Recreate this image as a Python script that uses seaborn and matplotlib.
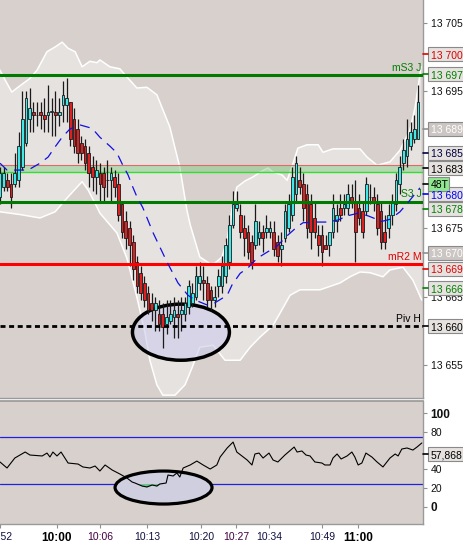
import numpy as np
import seaborn as sns
import matplotlib.pyplot as plt
from matplotlib.patches import Ellipse, Rectangle
from matplotlib.lines import Line2D

# 48 tick candles
bar_open = [13679.5, 13681, 13682, 13681.5, 13681.5, 13682, 13684, 13687.5, 13691, 13692,
            13691.5, 13692, 13691.5, 13691.5, 13692, 13692, 13691.5, 13693, 13693, 13693.5,
            13691, 13689.5, 13687.5, 13687, 13686, 13684, 13682.5, 13683, 13683, 13682,
            13682, 13682.5, 13681.5, 13678.5, 13676, 13675, 13673, 13670, 13668.5, 13667,
            13665.5, 13664, 13663, 13662.5, 13662.5, 13661, 13661.5, 13662, 13662.5, 13662.5,
            13662.5, 13663.5, 13664, 13665, 13667, 13667.5, 13667, 13666, 13664.5, 13666.5,
            13666.5, 13668, 13670, 13675.5, 13678, 13677, 13675, 13674.5, 13673, 13672.5,
            13673.5, 13674.5, 13674.5, 13674.5, 13674.5, 13673, 13672, 13673.5, 13675, 13677,
            13680, 13682, 13681.5, 13680, 13678.5, 13676.5, 13674, 13674, 13672.5, 13672.5,
            13674.5, 13676, 13678, 13678, 13678, 13679.5, 13679, 13678, 13677.5, 13677.5,
            13679.5, 13679.5, 13678.5, 13677.5, 13674.5, 13675, 13677, 13678.5, 13681.5, 13684.5,
            13685.5, 13687, 13688, 13688]
bar_close = [13683, 13683, 13681, 13679.5, 13683, 13687, 13691, 13694, 13692.5, 13691.5,
             13691.5, 13691.5, 13691, 13692, 13692, 13691.5, 13692, 13694.5, 13694, 13688,
             13687, 13686, 13686, 13684.5, 13683, 13682.5, 13683.5, 13681.5, 13681, 13682,
             13683, 13681, 13677, 13674.5, 13673.5, 13672.5, 13669, 13666.5, 13665.5, 13664.5,
             13663, 13663, 13664, 13661, 13660.5, 13662, 13662.5, 13663, 13662, 13663,
             13664, 13666.5, 13665.5, 13668, 13668, 13667, 13664.5, 13664.5, 13665, 13668,
             13669.5, 13672.5, 13675.5, 13678.5, 13678.5, 13674.5, 13673.5, 13671.5, 13670, 13676,
             13674.5, 13673.5, 13675, 13675, 13672, 13671, 13672.5, 13677.5, 13678.5, 13682.5,
             13684.5, 13681, 13678, 13675, 13674.5, 13674.5, 13672.5, 13671.5, 13672, 13674.5,
             13678, 13677, 13677, 13678.5, 13680, 13679, 13674.5, 13676.5, 13674.5, 13681.5,
             13679.5, 13679, 13675, 13673, 13673, 13677, 13679, 13682, 13684, 13686.5,
             13688, 13689, 13689.5, 13693.5]
bar_high = [13684, 13684, 13683, 13683, 13686, 13689, 13695, 13695, 13695.5, 13693.5,
            13693.5, 13693.5, 13694, 13696, 13694, 13695, 13694, 13696.5, 13697, 13693.5,
            13692.5, 13691, 13688.5, 13688, 13687, 13685.5, 13685, 13684.5, 13684, 13685,
            13684, 13683.5, 13683, 13679, 13677.5, 13676, 13674, 13671, 13669.5, 13668,
            13666.5, 13665.5, 13665, 13664.5, 13664, 13664.5, 13664.5, 13665, 13664.5, 13665,
            13665, 13667.5, 13667, 13669.5, 13670, 13669.5, 13668, 13666.5, 13666.5, 13669,
            13671, 13673.5, 13677, 13680.5, 13680.5, 13678.5, 13677, 13675.5, 13674, 13678.5,
            13676, 13675.5, 13677, 13676, 13676, 13674, 13674.5, 13678.5, 13680, 13684,
            13685.5, 13684, 13683, 13681.5, 13680, 13679, 13675.5, 13675.5, 13674, 13674.5,
            13680, 13678.5, 13680, 13680, 13681.5, 13681.5, 13682, 13680, 13679, 13682.5,
            13681.5, 13681, 13680, 13679, 13677, 13678.5, 13680, 13683, 13685.5, 13688,
            13691, 13690.5, 13691.5, 13696]
bar_low = [13678.5, 13680.5, 13680.5, 13678, 13681, 13681, 13683.5, 13687, 13689, 13689,
           13690, 13689.5, 13689, 13689, 13688.5, 13688.5, 13690, 13690.5, 13690.5, 13687,
           13686, 13684.5, 13685, 13683.5, 13681, 13680.5, 13680, 13679, 13679, 13679.5,
           13679, 13679.5, 13676, 13673.5, 13672, 13669.5, 13667.5, 13665.5, 13664.5, 13663.5,
           13662.5, 13661.5, 13660, 13660, 13657.5, 13659.5, 13661, 13659, 13659, 13660,
           13661.5, 13662.5, 13663.5, 13664.5, 13666, 13664.5, 13663.5, 13663, 13663.5, 13665,
           13665.5, 13667, 13669, 13675, 13677.5, 13673.5, 13671, 13670.5, 13669, 13672,
           13672.5, 13671.5, 13673.5, 13673.5, 13671, 13670, 13669.5, 13673, 13674.5, 13676,
           13679, 13680, 13676, 13673.5, 13672, 13673.5, 13671, 13669.5, 13672, 13671,
           13673.5, 13674.5, 13676, 13677, 13677, 13678, 13670, 13675.5, 13673.5, 13677,
           13678.5, 13677.5, 13674, 13672, 13672, 13673.5, 13675.5, 13677.5, 13680, 13683.5,
           13684, 13686.5, 13687.5, 13688]

# Bollinger bands and moving average (bar position, price)
bb_up_x = [0, 1.35, 3.2, 4.6, 8.1, 10, 12.7, 14.9, 16.8, 18.4, 20.3, 22.2, 24.3, 26.2, 27, 29.7,
           32.4, 34.3, 37, 39.7, 42.4, 45.9, 48.6, 50.5, 51.4, 54, 56.8, 58.1, 60, 61.4, 62.7,
           64, 66.2, 68.4, 70.3, 72.4, 73.8, 76.2, 77.6, 79.2, 80.5, 83, 86, 87.3, 90, 94, 97.3,
           99.2, 101.9, 105.4, 108.1, 110.8, 112.2, 113.8]
bb_up = [13698.1, 13696.7, 13694.9, 13695.5, 13696.9, 13698.1, 13700.8, 13701.5, 13702.2, 13701.3,
         13700.8, 13698.6, 13699.4, 13699.2, 13699.6, 13698.6, 13698.3, 13697.1, 13695.5, 13695.6,
         13694.5, 13689.8, 13683.9, 13677.7, 13675.5, 13670.8, 13669.8, 13669.9, 13670.8, 13673.3,
         13677.7, 13681.0, 13681.9, 13682.5, 13683.2, 13683.8, 13683.2, 13682.8, 13682.0, 13684.5,
         13686.7, 13687.2, 13687.2, 13686.1, 13686.6, 13686.6, 13686.6, 13685.4, 13684.2, 13684.7,
         13686.4, 13689.4, 13692.7, 13698.6]
bb_low_x = [0, 5.4, 10.8, 14.9, 17.6, 20.8, 22.2, 23.8, 26.2, 27, 31.6, 34.3, 37, 39.2, 40.5,
            42.4, 44, 47.3, 50, 51.9, 54, 57.6, 60.8, 64.9, 67.6, 70.3, 73.8, 75.7, 78.4, 81.1,
            86.5, 91.9, 94.6, 97.3, 100, 103.5, 105.4, 108.9, 111.6, 114]
bb_low = [13677.4, 13677.0, 13676.5, 13677.4, 13679.1, 13681.0, 13681.8, 13680.6, 13678.1, 13677.2,
          13674.3, 13670.6, 13664.9, 13659.7, 13655.7, 13652.1, 13650.6, 13650.6, 13652.1, 13654.6,
          13657.6, 13657.9, 13655.7, 13655.7, 13657.6, 13659.1, 13660.8, 13662.6, 13665.2, 13666.0,
          13666.0, 13667.0, 13667.9, 13668.6, 13668.5, 13667.9, 13668.9, 13669.3, 13667.4, 13664.5]
ma_x = [0, 1.9, 4.6, 7.6, 10.8, 13, 14.9, 16.8, 18.9, 21.6, 24.9, 27, 29.7, 31.6, 33.2, 34.6,
        35.9, 37, 38.6, 41.4, 45.1, 48.1, 50.8, 52.7, 55.9, 58.1, 61.4, 62.7, 64.9, 67, 69.5,
        72.2, 74.9, 77.6, 80.3, 81.9, 85.7, 88.4, 91.4, 93.8, 96.8, 99.5, 103.2, 105.4, 108.1,
        110.8, 113.5]
ma = [13684.5, 13683.5, 13683.5, 13683.5, 13684.5, 13685.4, 13686.9, 13688.3, 13689.5, 13690.1,
      13689.6, 13688.3, 13687.0, 13686.0, 13684.2, 13682.8, 13681.0, 13679.6, 13678.0, 13674.3,
      13670.1, 13667.0, 13665.2, 13664.5, 13663.8, 13664.1, 13665.2, 13666.7, 13668.4, 13669.2,
      13670.6, 13671.5, 13672.4, 13673.9, 13675.2, 13675.8, 13675.9, 13675.9, 13676.2, 13676.8,
      13677.2, 13676.8, 13676.0, 13676.3, 13677.4, 13679.1, 13680.9]

# RSI panel
rsi_x = [0, 1.9, 4, 6.8, 8.1, 11.4, 12.7, 13.5, 14.3, 15.4, 16.5, 18.4, 21.1, 22.4, 24.3, 25.7,
         27, 28.4, 30.3, 32.4, 34.3, 35.7, 36.5, 38.4, 39.7, 41.1, 42.4, 43.2, 44.9, 45.4, 46.8,
         47.8, 48.6, 49.5, 51.4, 53.2, 54.9, 56.8, 58.6, 59.5, 61.4, 63, 64, 66.8, 68.1, 68.9,
         70, 71.1, 72.7, 73.8, 75.1, 77, 79.5, 80.3, 81.6, 82.7, 83.8, 85.1, 87, 87.8, 89.2, 90,
         91.1, 92.2, 93.8, 95.1, 95.9, 96.8, 97.8, 98.9, 100.5, 101.9, 103.5, 105.4, 106.8,
         107.6, 108.6, 110, 111.6, 112.7, 114]
rsi_vals = [47.9, 41.5, 52.1, 58.5, 55.3, 54.3, 57.4, 53.2, 58.5, 54.3, 58.5, 46.8, 45.7, 42.6,
            41.5, 43.6, 38.3, 44.7, 39.4, 35.1, 30.9, 26.6, 25.5, 22.3, 21.3, 23.4, 22.3, 24.5,
            25.5, 34.0, 33.0, 36.2, 31.9, 41.5, 44.7, 48.9, 44.7, 40.4, 44.7, 53.2, 62.8, 69.1,
            58.5, 50.0, 44.7, 56.4, 57.4, 52.1, 57.4, 50.0, 47.9, 55.3, 63.8, 58.5, 59.6, 55.3,
            54.3, 47.9, 46.8, 44.7, 44.7, 52.1, 56.4, 51.1, 54.3, 58.5, 53.2, 44.7, 46.8, 57.4,
            53.2, 47.9, 42.6, 52.1, 56.4, 54.3, 61.7, 62.8, 60.6, 63.8, 68.1]

# pivot levels
ms3_j = 13697.4
s3_j = 13678.9
mr2_m = 13669.7
piv_h = 13660.7
zone_top, zone_bottom = 13684.2, 13683.2

time_ticks = [0, 15.4, 27, 39.7, 54.3, 63.8, 72.7, 87, 96.8]
time_labels = ["09:52", "10:00", "10:06", "10:13", "10:20", "10:27", "10:34", "10:49", "11:00"]

# price scale labels left visible (the others sit under the level boxes)
price_ticks = [13655, 13665, 13675, 13695, 13705]

# right side price boxes: (y pixel, text, text colour, box colour)
price_boxes = [
    (54, "13 700,", "#E00000", "#E6E2E0"),
    (74, "13 697,", "#008000", "#E6E2E0"),
    (129, "13 689,", "white", "#CBC5C3"),
    (153, "13 685,", "#000040", "#E6E2E0"),
    (168, "13 683,", "black", "#E6E2E0"),
    (194, "13 680,", "#0000FF", "#E6E2E0"),
    (209, "13 678,", "#008000", "#E6E2E0"),
    (253, "13 670,", "white", "#CBC5C3"),
    (269, "13 669,", "#E00000", "#E6E2E0"),
    (288, "13 666,", "#008000", "#E6E2E0"),
    (326, "13 660,", "black", "#E6E2E0"),
]

sns.set_theme(style="white")
plt.rcParams["font.family"] = ["Liberation Sans", "DejaVu Sans"]

W, H = 464, 545
BAR_PX = 3.7


def fx(px):
    return px / W


def fy(py):
    return 1 - py / H


fig = plt.figure(figsize=(W / 100, H / 100), dpi=100)
fig.patch.set_facecolor("white")

ax = fig.add_axes([0, fy(398), fx(423), 398 / H])
ax_rsi = fig.add_axes([0, fy(524), fx(423), (524 - 401) / H], sharex=ax)

bg = "#D8D0CD"
for a in (ax, ax_rsi):
    a.set_facecolor(bg)
    for side in ["left", "top"]:
        a.spines[side].set_visible(False)
    for side in ["right", "bottom"]:
        a.spines[side].set_color("#9A9A9A")
        a.spines[side].set_linewidth(1.0)
ax_rsi.spines["top"].set_visible(True)
ax_rsi.spines["top"].set_color("#9A9A9A")

# Bollinger band
ax.fill(np.r_[bb_up_x, bb_low_x[::-1]], np.r_[bb_up, bb_low[::-1]], color="#E6E2E0", lw=0, zorder=1)
ax.plot(bb_up_x, bb_up, color="white", lw=1.1, zorder=1.5)
ax.plot(bb_low_x, bb_low, color="white", lw=1.1, zorder=1.5)

# zone
ax.axhspan(zone_bottom, zone_top, color="#7CCD7C", alpha=0.45, lw=0, zorder=1.6)
ax.axhline(zone_top, color="#E06A6A", lw=0.8, zorder=1.7)
ax.axhline(zone_bottom, color="#33DD33", lw=1.0, zorder=1.7)

# highlight ellipse
ax.add_patch(Ellipse((48.9, 13659.8), 26.2, 8.2, facecolor=(0.80, 0.80, 0.92, 0.6),
                     edgecolor="black", lw=2.5, zorder=2))

# candles
x = np.arange(len(bar_open))
o = np.array(bar_open)
c = np.array(bar_close)
up = c >= o
ax.vlines(x, bar_low, bar_high, color="#1A1A1A", lw=0.9, zorder=3)
body_h = np.maximum(np.abs(c - o), 0.12)
ax.bar(x, body_h, bottom=np.minimum(o, c), width=0.72,
       color=np.where(up, "#40E8E8", "#E02020"), edgecolor="#1A1A1A", linewidth=0.6, zorder=3.2)

# moving average
ax.plot(ma_x, ma, color="#1010E0", lw=0.9, linestyle=(0, (8, 5.5)), zorder=5)

# levels
ax.axhline(ms3_j, color="#007A00", lw=2.2, zorder=4)
ax.axhline(s3_j, color="#007A00", lw=2.2, zorder=4)
ax.axhline(mr2_m, color="#FF0000", lw=2.2, zorder=4)
ax.axhline(piv_h, color="black", lw=2.0, linestyle=(0, (1.8, 1.3)), zorder=4)
for level, name, col, z in [(ms3_j, "mS3 J", "#008000", 4), (s3_j, "S3 J", "#008000", 2.9),
                            (mr2_m, "mR2 M", "#E00000", 4), (piv_h, "Piv H", "black", 4)]:
    ax.annotate(name, xy=(0.996, level), xycoords=ax.get_yaxis_transform(),
                xytext=(0, 1.5), textcoords="offset points", ha="right", va="bottom",
                color=col, fontsize=7.5, zorder=z)

ax.set_xlim(0, 423 / BAR_PX)
ax.set_ylim(13650.18, 13708.36)
ax.yaxis.tick_right()
ax.set_yticks(price_ticks)
ax.set_yticklabels([f"{v // 1000} {v % 1000:03d}" for v in price_ticks])
ax.tick_params(axis="y", right=True, left=False, length=3, width=0.8, color="#909090",
               labelsize=7.5, pad=2.5, labelcolor="#101010")
ax.tick_params(axis="x", bottom=False, labelbottom=False)
ax.grid(False)

# RSI
ax_rsi.axhline(75, color="#2020E0", lw=0.9)
ax_rsi.axhline(25, color="#2020E0", lw=0.9)
ax_rsi.add_patch(Ellipse((44.2, 20.7), 26.2, 35.1, facecolor="#CFCFE0",
                         edgecolor="black", lw=2.3, zorder=2))
rv = np.array(rsi_vals)
ax_rsi.fill_between(rsi_x, rv, 25, where=rv < 25, interpolate=True, color="#70C090", lw=0, zorder=2.5)
sns.lineplot(x=rsi_x, y=rsi_vals, color="black", lw=0.8, sort=False, estimator=None,
             ax=ax_rsi, zorder=3)
ax_rsi.set_ylim(-18.1, 112.8)
ax_rsi.set_xlabel("")
ax_rsi.set_ylabel("")
ax_rsi.yaxis.tick_right()
ax_rsi.set_yticks([0, 20, 40, 80, 100])
ax_rsi.set_yticklabels(["0", "20", "40", "80", "100"])
ax_rsi.tick_params(axis="y", right=True, left=False, length=3, width=0.8, color="#909090",
                   labelsize=7.5, pad=2.5, labelcolor="#101010")
for lab in ax_rsi.get_yticklabels():
    if lab.get_text() in ("0", "100"):
        lab.set_fontweight("bold")
        lab.set_fontsize(8.5)

ax_rsi.set_xticks(time_ticks)
ax_rsi.set_xticklabels(time_labels)
ax_rsi.tick_params(axis="x", bottom=True, length=3, width=0.8, color="#909090",
                   labelsize=7.5, pad=2.5)
for lab in ax_rsi.get_xticklabels():
    if lab.get_text() in ("10:00", "11:00"):
        lab.set_fontweight("bold")
        lab.set_fontsize(8.5)
        lab.set_color("black")
    elif lab.get_text() in ("10:06", "10:27"):
        lab.set_color("#400040")
    else:
        lab.set_color("#101040")
ax_rsi.grid(False)


def add_box(py, text, tcolor, face, width=40):
    fig.add_artist(Rectangle((fx(428), fy(py + 7)), fx(width), 14 / H, transform=fig.transFigure,
                             facecolor=face, edgecolor="#8A8A8A", lw=0.8, zorder=10))
    tick_col = "#909090" if tcolor == "white" else tcolor
    fig.add_artist(Line2D([fx(423), fx(428)], [fy(py), fy(py)], color=tick_col, lw=1.2, zorder=10))
    fig.text(fx(431), fy(py), text, color=tcolor, fontsize=7.5, ha="left",
             va="center_baseline", zorder=11)


for py, text, tcol, face in price_boxes:
    add_box(py, text, tcol, face)
add_box(184, "48T", "black", "#90E890", width=21)
add_box(454, "57,868", "black", "#E6E2E0", width=35)

fig.savefig("out.png", dpi=100, facecolor="white")
